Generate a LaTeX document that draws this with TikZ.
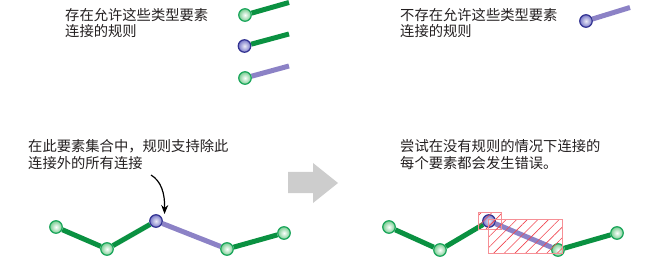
\documentclass[tikz,border=0pt]{standalone}
\usepackage{fontspec}
\setmainfont{Noto Sans CJK SC}
\usetikzlibrary{backgrounds,patterns.meta,arrows.meta}
\definecolor{jgreen}{RGB}{25,165,90}
\definecolor{jgreenin}{RGB}{120,205,145}
\definecolor{jblue}{RGB}{50,50,145}
\definecolor{jbluein}{RGB}{120,120,200}
\definecolor{egreen}{RGB}{10,145,65}
\definecolor{elav}{RGB}{140,130,198}
\definecolor{hatch}{RGB}{240,70,80}
\definecolor{arrowgray}{RGB}{205,205,205}
\definecolor{txt}{RGB}{35,31,32}
\tikzset{
  gj/.style={circle,minimum size=12.5pt,inner sep=0pt,draw=jgreen,line width=1.2pt,inner color=white,outer color=jgreenin},
  bj/.style={circle,minimum size=12.5pt,inner sep=0pt,draw=jblue,line width=1.2pt,inner color=white!85!jbluein,outer color=jbluein},
  ge/.style={draw=egreen,line width=5pt},
  le/.style={draw=elav,line width=5pt},
  lbl/.style={anchor=base west,inner sep=0pt,text=txt,font=\fontsize{14.3pt}{16pt}\selectfont},
  errbox/.style={draw=hatch!60,line width=0.7pt,pattern={Lines[angle=45,distance=7.5pt,line width=0.6pt]},pattern color=hatch}
}
\begin{document}
\begin{tikzpicture}[x=1pt,y=-1pt]
\useasboundingbox (0,0) rectangle (648,259);
% texts
\node[lbl] (t1a) at (65,21) {存在允许这些类型要素};
\node[lbl] (t1b) at (65,37) {连接的规则};
\node[lbl] (t2a) at (400,20.5) {不存在允许这些类型要素};
\node[lbl] (t2b) at (400,37) {连接的规则};
\node[lbl] (t3a) at (28,152) {在此要素集合中，规则支持除此};
\node[lbl] (t3b) at (28,168) {连接外的所有连接};
\node[lbl] (t4a) at (400,152) {尝试在没有规则的情况下连接的};
\node[lbl] (t4b) at (400,168) {每个要素都会发生错误。};
% top-left legend
\node[gj] (a1) at (245,15) {};
\coordinate (a1e) at (289,2.5);
\node[bj] (a2) at (244.5,46) {};
\coordinate (a2e) at (289,34);
\node[gj] (a3) at (245,78) {};
\coordinate (a3e) at (289,66);
% top-right legend
\node[bj] (b1) at (586,21) {};
\coordinate (b1e) at (630,7.5);
% bottom-left network
\node[gj] (l1) at (56,227) {};
\node[gj] (l2) at (107,249) {};
\node[bj] (l3) at (156,221) {};
\node[gj] (l4) at (227,249) {};
\node[gj] (l5) at (284,233) {};
% bottom-right network
\node[gj] (r1) at (389,227) {};
\node[gj] (r2) at (440,250) {};
\node[bj] (r3) at (489,221) {};
\node[gj] (r4) at (558,250) {};
\node[gj] (r5) at (617,233) {};
\begin{scope}[on background layer]
\draw[ge] (a1) -- (a1e);
\draw[ge] (a2) -- (a2e);
\draw[le] (a3) -- (a3e);
\draw[le] (b1) -- (b1e);
\draw[ge] (l1) -- (l2);
\draw[ge] (l2) -- (l3);
\draw[le] (l3) -- (l4);
\draw[ge] (l4) -- (l5);
\draw[ge] (r1) -- (r2);
\draw[ge] (r2) -- (r3);
\draw[le] (r3) -- (r4);
\draw[ge] (r4) -- (r5);
\end{scope}
% error boxes
\path[errbox] (478,212) rectangle (501,229);
\path[errbox] (488,219) rectangle (562,253);
% curved arrow
\coordinate (cs) at (151,175);
\coordinate (ce) at (164.5,214);
\draw[line width=1.2pt,-{Stealth[length=9pt,width=7pt]}] (cs) .. controls (161,181) and (165,193) .. (ce);
% big gray arrow
\fill[arrowgray] (288,172) -- (313,172) -- (313,163) -- (338,183) -- (313,203) -- (313,193) -- (288,193) -- cycle;
\end{tikzpicture}
\end{document}
